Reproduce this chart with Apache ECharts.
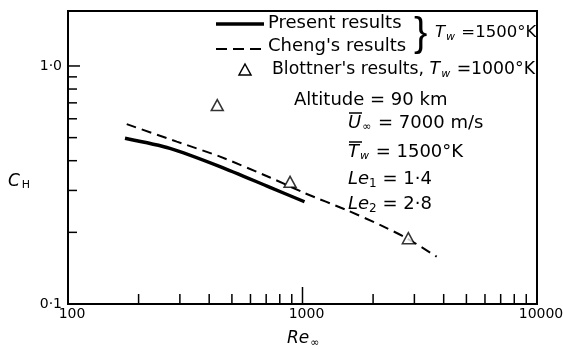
<!DOCTYPE html>
<html><head><meta charset="utf-8">
<script src="https://cdn.jsdelivr.net/npm/echarts@6/dist/echarts.min.js"></script>
<style>html,body{margin:0;padding:0;background:#fff}#c{width:563px;height:349px}</style>
</head><body><div id="c"></div>
<script>
// ---- data ----
const presentRe = [175, 272, 445, 727, 1020];
const presentCH = [0.497, 0.451, 0.378, 0.309, 0.269];
const chengRe = [178, 291, 445, 727, 1025, 1543, 2140, 2782, 3735];
const chengCH = [0.570, 0.481, 0.416, 0.340, 0.292, 0.248, 0.215, 0.189, 0.158];
const blottnerRe = [433, 885, 2827];
const blottnerCH = [0.685, 0.326, 0.189];
const xMinorTicks = [200, 300, 400, 500, 600, 700, 800, 900, 2000, 3000, 4000, 5000, 6000, 7000, 8000, 9000];
const xMajorTicks = [1000];
const yMinorTicks = [0.2, 0.3, 0.4, 0.5, 0.6, 0.7, 0.8, 0.9];
const yMajorTicks = [1.0];
const xMin = 100, xMax = 10000, yMin = 0.1, yMax = 1.702;

const FONT = 'DejaVu Sans';
const chart = echarts.init(document.getElementById('c'), null, {renderer: 'canvas'});

function tickSeries(values, dir, len, width) {
  return {
    type: 'custom', clip: false, silent: true, z: 5,
    data: values.map(v => dir === 'x' ? [v, yMin] : [xMin, v]),
    renderItem: function (params, api) {
      const p = api.coord([api.value(0), api.value(1)]);
      const shape = dir === 'x'
        ? {x1: p[0], y1: p[1], x2: p[0], y2: p[1] - len}
        : {x1: p[0], y1: p[1], x2: p[0] + len, y2: p[1]};
      return {type: 'line', shape: shape, style: {stroke: '#000', lineWidth: width}};
    }
  };
}

function mkRich(fs) {
  return {
    n: {fontFamily: FONT, fontSize: fs, color: '#000'},
    it: {fontFamily: FONT, fontSize: fs, fontStyle: 'italic', color: '#000'},
    sub: {fontFamily: FONT, fontSize: 11, fontStyle: 'italic', color: '#000', padding: [9, 1, 0, 1]},
    subn: {fontFamily: FONT, fontSize: 12, color: '#000', padding: [9, 0, 0, 0]}
  };
}
function txt(x, y, text, fs) {
  fs = fs || 18;
  return {type: 'text', x: x, y: y, style: {text: text, rich: mkRich(fs), fontFamily: FONT, fontSize: fs, fill: '#000', verticalAlign: 'middle', align: 'left'}};
}

const option = {
  backgroundColor: '#fff',
  animation: false,
  grid: {left: 68, right: 26, top: 11, bottom: 45, show: true, borderColor: '#000', borderWidth: 2, containLabel: false, outerBoundsMode: 'none'},
  xAxis: {
    type: 'log', logBase: 10, min: xMin, max: xMax,
    axisLine: {show: true, lineStyle: {color: '#000', width: 2}},
    axisTick: {show: false}, splitLine: {show: false},
    axisLabel: {
      color: '#000', fontFamily: FONT, fontSize: 14, margin: 3, padding: [0, 0, 0, 8],
      alignMinLabel: 'center', alignMaxLabel: 'center', hideOverlap: false,
      formatter: v => { const r = Math.round(v); return (r === 100 || r === 1000 || r === 10000) ? String(r) : ''; }
    }
  },
  yAxis: {
    type: 'log', logBase: 10, min: yMin, max: yMax,
    axisLine: {show: true, lineStyle: {color: '#000', width: 2}},
    axisTick: {show: false}, splitLine: {show: false},
    axisLabel: {
      color: '#000', fontFamily: FONT, fontSize: 14, margin: 6, showMaxLabel: false,
      formatter: v => { if (Math.abs(v - 1) < 1e-6) return '1·0'; if (Math.abs(v - 0.1) < 1e-6) return '0·1'; return ''; }
    }
  },
  series: [
    tickSeries(xMinorTicks, 'x', 10, 1.5),
    tickSeries(xMajorTicks, 'x', 17, 1.5),
    tickSeries(yMinorTicks, 'y', 9, 1.5),
    tickSeries(yMajorTicks, 'y', 12, 1.5),
    {
      type: 'line', name: 'Present results', data: presentRe.map((r, i) => [r, presentCH[i]]),
      showSymbol: false, smooth: 0.25, lineStyle: {color: '#000', width: 3.4}, z: 3
    },
    {
      type: 'line', name: "Cheng's results", data: chengRe.map((r, i) => [r, chengCH[i]]),
      showSymbol: false, smooth: 0.25, lineStyle: {color: '#000', width: 2, type: [10, 6]}, z: 3
    },
    {
      type: 'scatter', name: "Blottner's results", data: blottnerRe.map((r, i) => [r, blottnerCH[i]]),
      symbol: 'triangle', symbolSize: [12, 11],
      itemStyle: {color: '#fff', borderColor: '#000', borderWidth: 1.5}, z: 6
    }
  ],
  graphic: [
    // legend samples
    {type: 'line', shape: {x1: 216, y1: 24, x2: 264, y2: 24}, style: {stroke: '#000', lineWidth: 3.4}},
    {type: 'line', shape: {x1: 216, y1: 49, x2: 264, y2: 49}, style: {stroke: '#000', lineWidth: 2.2, lineDash: [11, 6]}},
    {type: 'polygon', shape: {points: [[245, 64], [251, 75], [239, 75]]}, style: {fill: '#fff', stroke: '#000', lineWidth: 1.5}},
    txt(268, 23, 'Present results'),
    txt(268, 46, "Cheng's results"),
    {type: 'text', x: 414, y: 35, style: {text: '}', fontFamily: 'Liberation Sans', fontSize: 40, fill: '#000', verticalAlign: 'middle', align: 'left'}},
    txt(435, 33, '{it|T}{sub|w}{n| =1500°K}', 16.5),
    txt(272, 70, "{n|Blottner's results, }{it|T}{sub|w}{n| =1000°K}", 17.3),
    txt(294, 100, 'Altitude = 90 km'),
    txt(348, 123, '{it|U}{sub|∞}{n| = 7000 m/s}'),
    {type: 'line', shape: {x1: 349, y1: 113, x2: 362, y2: 113}, style: {stroke: '#000', lineWidth: 1.5}},
    txt(348, 152, '{it|T}{sub|w}{n| = 1500°K}'),
    {type: 'line', shape: {x1: 349, y1: 142, x2: 362, y2: 142}, style: {stroke: '#000', lineWidth: 1.5}},
    txt(348, 179, '{it|Le}{subn|1}{n| = 1·4}'),
    txt(348, 204, '{it|Le}{subn|2}{n| = 2·8}'),
    // axis titles
    {type: 'text', x: 8, y: 182, style: {text: '{it|C}{hs|H}', rich: {it: {fontFamily: FONT, fontSize: 17, fontStyle: 'italic', color: '#000'}, hs: {fontFamily: FONT, fontSize: 11, color: '#000', padding: [6, 0, 0, 2]}}, verticalAlign: 'middle', align: 'left'}},
    {type: 'text', x: 287, y: 339, style: {text: '{it|Re}{sub|∞}', rich: mkRich(17), verticalAlign: 'middle', align: 'left'}}
  ]
};
chart.setOption(option);
</script></body></html>
